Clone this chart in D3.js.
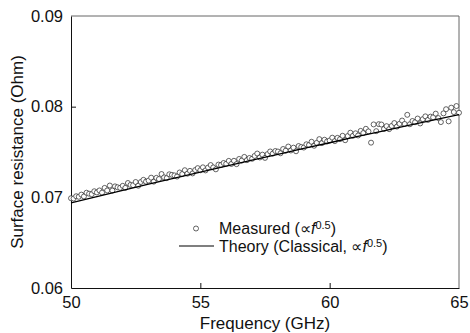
<!DOCTYPE html>
<html><head><meta charset="utf-8">
<script src="https://cdn.jsdelivr.net/npm/d3@7"></script>
<style>body{margin:0;background:#fff;}svg{display:block;font-family:"Liberation Sans",Arial,sans-serif;}</style>
</head><body><svg id="c" width="470" height="333"></svg>
<script>
const xTicks = [50, 55, 60, 65];
const yTicks = [0.06, 0.07, 0.08, 0.09];
const measuredFreq = [
50.0,50.1,50.2,50.3,50.4,50.5,50.6,50.7,50.8,50.9,
51.0,51.1,51.2,51.3,51.4,51.5,51.6,51.7,51.8,51.9,
52.0,52.1,52.2,52.3,52.4,52.5,52.6,52.7,52.8,52.9,
53.0,53.1,53.2,53.3,53.4,53.5,53.6,53.7,53.8,53.9,
54.0,54.1,54.2,54.3,54.4,54.5,54.6,54.7,54.8,54.9,
55.0,55.1,55.2,55.3,55.4,55.5,55.6,55.7,55.8,55.9,
56.0,56.1,56.2,56.3,56.4,56.5,56.6,56.7,56.8,56.9,
57.0,57.1,57.2,57.3,57.4,57.5,57.6,57.7,57.8,57.9,
58.0,58.1,58.2,58.3,58.4,58.5,58.6,58.7,58.8,58.9,
59.0,59.1,59.2,59.3,59.4,59.5,59.6,59.7,59.8,59.9,
60.0,60.1,60.2,60.3,60.4,60.5,60.6,60.7,60.8,60.9,
61.0,61.1,61.2,61.3,61.4,61.5,61.6,61.7,61.8,61.9,
62.0,62.1,62.2,62.3,62.4,62.5,62.6,62.7,62.8,62.9,
63.0,63.1,63.2,63.3,63.4,63.5,63.6,63.7,63.8,63.9,
64.0,64.1,64.2,64.3,64.4,64.5,64.6,64.7,64.8,64.9,
65.0];
const measuredRs = [
.06990,.06987,.07012,.07006,.07030,.07010,.07051,.07040,.07035,.07067,
.07054,.07076,.07052,.07104,.07076,.07130,.07075,.07121,.07111,.07105,
.07127,.07104,.07158,.07137,.07134,.07169,.07128,.07169,.07193,.07173,
.07185,.07217,.07173,.07215,.07202,.07257,.07220,.07212,.07254,.07248,
.07242,.07229,.07274,.07257,.07299,.07261,.07292,.07264,.07301,.07322,
.07299,.07331,.07297,.07329,.07356,.07330,.07309,.07361,.07357,.07379,
.07370,.07402,.07368,.07403,.07366,.07423,.07405,.07446,.07410,.07434,
.07425,.07457,.07483,.07440,.07471,.07435,.07477,.07506,.07482,.07511,
.07505,.07486,.07533,.07514,.07560,.07517,.07548,.07508,.07566,.07555,
.07549,.07585,.07577,.07613,.07569,.07601,.07642,.07598,.07635,.07616,
.07627,.07658,.07620,.07656,.07642,.07679,.07630,.07676,.07713,.07679,
.07706,.07682,.07733,.07709,.07756,.07727,.07603,.07804,.07730,.07807,
.07803,.07754,.07785,.07752,.07788,.07819,.07780,.07811,.07847,.07809,
.07910,.07806,.07842,.07828,.07869,.07815,.07862,.07893,.07854,.07890,
.07882,.07923,.07874,.07830,.07926,.07972,.07838,.07989,.07940,.08007,
.07933];
const theoryFreq = [50,51,52,53,54,55,56,57,58,59,60,61,62,63,64,65];
const theoryRs = [.06940,.07009,.07077,.07145,.07212,.07279,.07345,.07410,.07475,.07539,.07602,.07666,.07728,.07790,.07852,.07913];
const legendLabels = ["Measured (\u221D", "Theory (Classical, \u221D"];

const svg = d3.select("#c");
const L = 71, R = 459, T = 16, B = 288;
const x = d3.scaleLinear().domain([50, 65]).range([L, R]);
const y = d3.scaleLinear().domain([0.06, 0.09]).range([B, T]);

// frame
svg.append("line").attr("x1",L).attr("x2",R).attr("y1",T).attr("y2",T).attr("stroke","#666").attr("stroke-width",1);
svg.append("line").attr("x1",R).attr("x2",R).attr("y1",T).attr("y2",B).attr("stroke","#666").attr("stroke-width",1);

const yAxis = svg.append("g").attr("transform",`translate(${L},0)`)
  .call(d3.axisLeft(y).tickValues(yTicks).tickFormat(d3.format(".2f")).tickSizeInner(-5).tickSizeOuter(0).tickPadding(8));
const xAxis = svg.append("g").attr("transform",`translate(0,${B})`)
  .call(d3.axisBottom(x).tickValues(xTicks).tickFormat(d3.format("d")).tickSizeInner(-5).tickSizeOuter(0).tickPadding(8));
[yAxis, xAxis].forEach(g => {
  g.attr("font-size", null).attr("font-family", null);
  g.selectAll("text").attr("font-size", 16.5).attr("fill","#111");
  g.select(".domain").attr("stroke","#111");
  g.selectAll(".tick line").attr("stroke","#111");
});
yAxis.selectAll(".tick line").filter(d => d === 0.06 || d === 0.09).remove();
xAxis.selectAll(".tick line").filter(d => d === 50 || d === 65).remove();

// measured
svg.append("g").selectAll("circle").data(measuredFreq).join("circle")
  .attr("cx", d => x(d)).attr("cy", (d,i) => y(measuredRs[i])).attr("r", 2.5)
  .attr("fill","#fff").attr("stroke","#222").attr("stroke-width",0.7);

// theory
svg.append("path").datum(theoryFreq)
  .attr("d", d3.line().x(d => x(d)).y((d,i) => y(theoryRs[i])))
  .attr("fill","none").attr("stroke","#000").attr("stroke-width",1.3);

// axis titles
svg.append("text").attr("x", (L+R)/2).attr("y", 329).attr("text-anchor","middle")
  .attr("font-size",17).attr("fill","#111").text("Frequency (GHz)");
svg.append("text").attr("transform",`translate(23,${(T+B)/2}) rotate(-90)`).attr("text-anchor","middle")
  .attr("font-size",17).attr("fill","#111").text("Surface resistance (Ohm)");

// legend
const lg = svg.append("g");
lg.append("circle").attr("cx",196).attr("cy",228.5).attr("r",2.5).attr("fill","#fff").attr("stroke","#222").attr("stroke-width",0.7);
lg.append("line").attr("x1",179).attr("x2",214).attr("y1",246).attr("y2",246).attr("stroke","#000").attr("stroke-width",1.2);
[[legendLabels[0], 234], [legendLabels[1], 252]].forEach(([lab, yy]) => {
  const t = lg.append("text").attr("x", 219).attr("y", yy).attr("font-size",16).attr("fill","#111");
  t.append("tspan").text(lab);
  t.append("tspan").attr("font-style","italic").text("f");
  t.append("tspan").attr("font-size",11).attr("dy",-5).text("0.5");
  t.append("tspan").attr("dy",5).text(")");
});
</script></body></html>
